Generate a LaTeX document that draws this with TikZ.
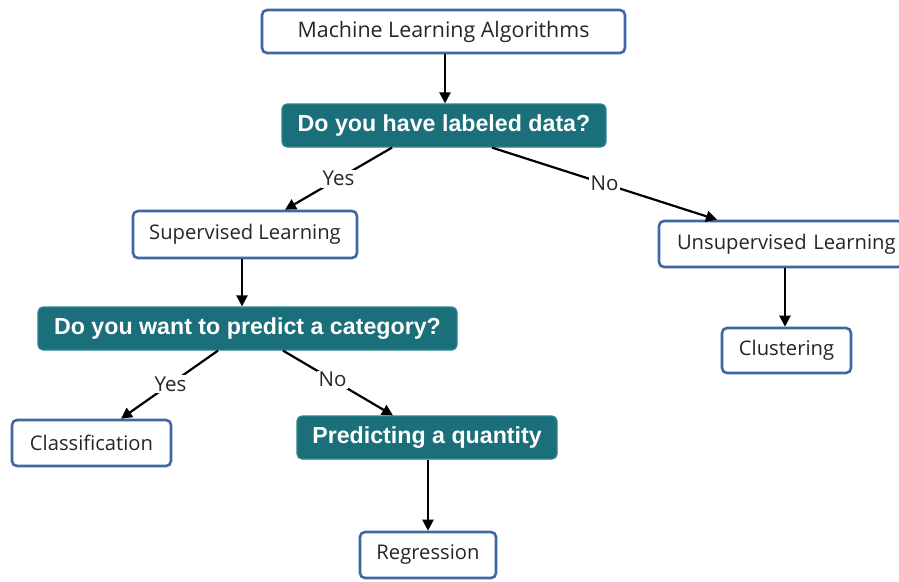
\documentclass[tikz,border=0pt]{standalone}
\usepackage{fontspec}
\setmainfont{Open Sans}
\newfontfamily\qfont{Liberation Sans}
\usetikzlibrary{arrows.meta}
\definecolor{boxblue}{HTML}{3F67A3}
\definecolor{qteal}{HTML}{1A6F7B}
\definecolor{qedge}{HTML}{2D8590}
\tikzset{
  answer/.style={draw=boxblue, line width=2.6pt, fill=white, rounded corners=5pt,
    inner sep=0pt, font=\fontsize{20.2}{22}\selectfont, text=black!85},
  question/.style={draw=qedge, line width=1.2pt, fill=qteal, rounded corners=5pt,
    inner sep=0pt, font=\qfont\bfseries\fontsize{23.2}{25}\selectfont, text=white},
  flow/.style={line width=2.2pt, -{Triangle[length=11pt,width=11pt]}},
  tag/.style={fill=white, inner sep=1.5pt, font=\fontsize{20.5}{22}\selectfont, text=black!85}
}
\begin{document}
\begin{tikzpicture}[x=1pt,y=-1pt]
\useasboundingbox (0,0) rectangle (899,581);

% boxes
\node[answer, minimum width=363pt, minimum height=43pt, font=\fontsize{21.4}{23}\selectfont] (mla) at (443.5,31.5) {Machine Learning Algorithms};
\node[question, minimum width=324pt, minimum height=43pt] (lab) at (444,125.5) {Do you have labeled data?};
\node[answer, minimum width=224pt, minimum height=47pt] (sup) at (245,234.5) {Supervised Learning};
\node[answer, minimum width=244pt, minimum height=46pt, text width=236pt, align=left] (uns) at (781,244) {\hspace*{14pt}Unsupervised Learning};
\node[question, minimum width=419pt, minimum height=43pt] (cat) at (247.5,328.5) {Do you want to predict a category?};
\node[answer, minimum width=159pt, minimum height=46pt] (cls) at (91.5,443) {Classification};
\node[question, minimum width=260pt, minimum height=43pt] (qty) at (427,437.5) {Predicting a quantity};
\node[answer, minimum width=129pt, minimum height=45pt] (clu) at (786.5,350.5) {Clustering};
\node[answer, minimum width=136pt, minimum height=46pt] (reg) at (428,555) {Regression};

% connectors
\draw[flow] (mla.south -| 445,0) -- (lab.north -| 445,0);
\draw[flow] (lab.south -| 392,0) -- node[tag] {Yes} (sup.north -| 285,0);
\draw[flow] (lab.south -| 492,0) -- node[tag, pos=0.5] {No} (uns.north -| 717,0);
\draw[flow] (sup.south -| 242,0) -- (cat.north -| 242,0);
\draw[flow] (cat.south -| 218,0) -- node[tag, pos=0.49] {Yes} (cls.north -| 121,0);
\draw[flow] (cat.south -| 283,0) -- node[tag, pos=0.45] {No} (qty.north -| 393,0);
\draw[flow] (qty.south -| 428,0) -- (reg.north -| 428,0);
\draw[flow] (uns.south -| 785,0) -- (clu.north -| 785,0);
\end{tikzpicture}
\end{document}
